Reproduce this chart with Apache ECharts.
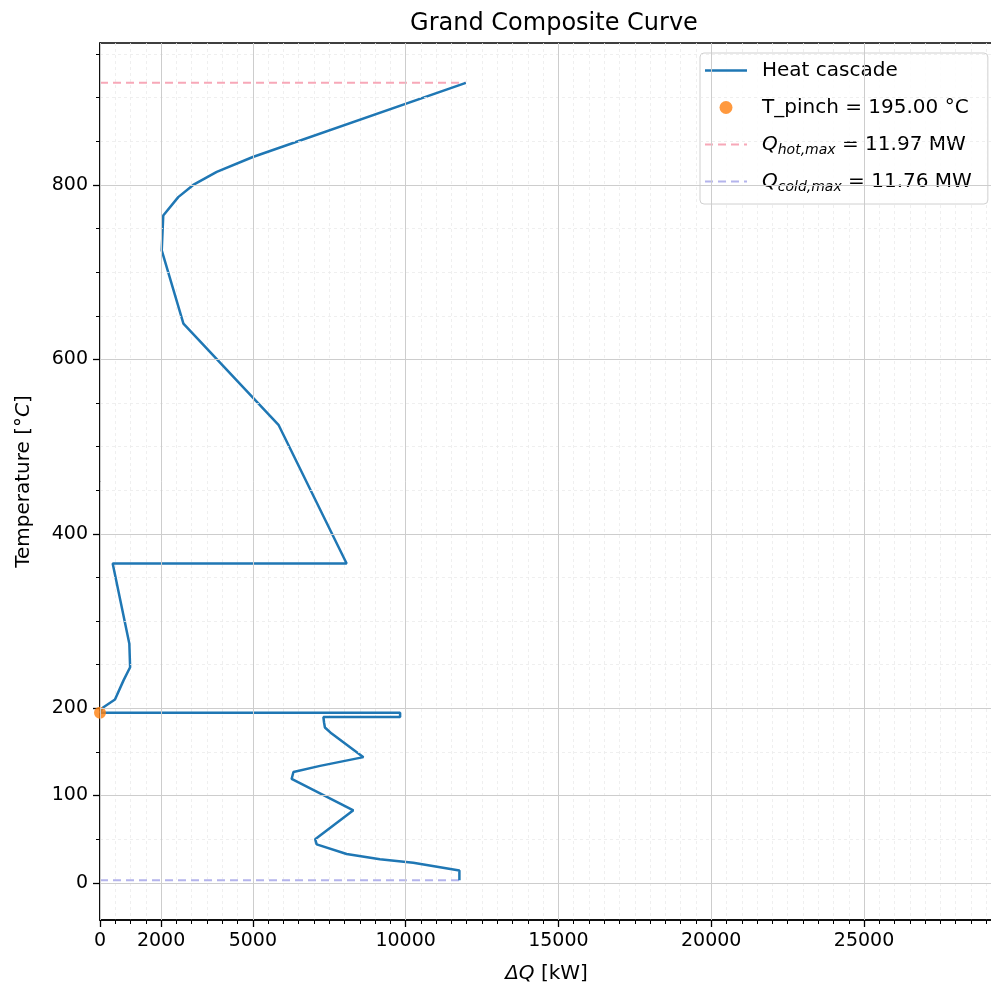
<!DOCTYPE html>
<html><head><meta charset="utf-8">
<script src="https://cdn.jsdelivr.net/npm/echarts@6/dist/echarts.min.js"></script>
<style>html,body{margin:0;padding:0;background:#fff}#c{width:991px;height:984px}</style>
</head><body><div id="c"></div>
<script>
// Heat cascade (Grand Composite Curve): heat flow ΔQ [kW] vs shifted temperature [°C]
const cascadeQ = [11970, 5000, 3820, 3050, 2560, 2070, 2020, 2730, 5840, 8070, 415, 960, 985, 770, 490, 100, 0, 9820, 9820, 7310, 7330, 7360, 7580, 8620, 7200, 6330, 6270, 8290, 7040, 7090, 8070, 9160, 10250, 11760, 11760];
const cascadeT = [917, 832, 815, 800, 786, 765, 725, 641, 525, 366, 366, 274, 247, 232, 210, 201, 195, 195, 190, 190, 184, 178, 171, 144, 134, 127, 119, 83, 50, 44, 33, 27, 23, 14, 3];
const pinchT = 195;
const qHotMax = 11970;   // kW
const qColdMax = 11760;  // kW
const tHot = 917;
const tCold = 3;
const xMajorTicks = [0, 2000, 5000, 10000, 15000, 20000, 25000];
const yMajorTicks = [0, 100, 200, 400, 600, 800];
const xMinorStep = 500;
const yMinorStep = 50;

const X_MIN = 0, X_MAX = 29220, Y_MIN = -42.7, Y_MAX = 962.7;
const yMinorTicks = [];
for (let v = 0; v <= Y_MAX; v += yMinorStep) yMinorTicks.push(v);

const FONT = 'DejaVu Sans';
const cascade = cascadeQ.map((q, i) => [q, cascadeT[i]]);

const legendNames = {
  cascade: 'Heat cascade',
  pinch: 'T_pinch',
  hot: 'Qhot',
  cold: 'Qcold'
};
const ICON_SOLID = 'path://M0,0h42v2.6h-42z';
const ICON_DASH = 'path://M0,0h8v2h-8z M13,0h8v2h-8z M26,0h8v2h-8z M39,0h3v2h-3z';

const chart = echarts.init(document.getElementById('c'), null, {renderer: 'canvas'});

const minorGridY = yMinorTicks.map(v => ({yAxis: v}));
const majorGridX = xMajorTicks.map(v => ({xAxis: v}));
const majorGridY = yMajorTicks.map(v => ({yAxis: v}));

chart.setOption({
  animation: false,
  backgroundColor: '#fff',
  title: {
    text: 'Grand Composite Curve',
    left: 549, top: 7, textAlign: 'center',
    textStyle: {fontFamily: FONT, fontSize: 24, fontWeight: 'normal', color: '#000'}
  },
  grid: {
    left: 100, right: -2, top: 43, bottom: 64,
    show: true, borderColor: '#000', borderWidth: 1.5, backgroundColor: 'transparent',
    outerBoundsMode: 'none'
  },
  xAxis: [
    {
      type: 'value', min: X_MIN, max: X_MAX, interval: xMinorStep, position: 'bottom',
      axisLine: {show: true, onZero: false, lineStyle: {color: '#000', width: 1.5}},
      axisTick: {show: true, length: 4, lineStyle: {color: '#000', width: 1}},
      axisLabel: {show: false},
      splitLine: {show: true, lineStyle: {color: '#ebebeb', width: 0.8, type: [3, 3]}}
    },
    {
      type: 'value', min: X_MIN, max: X_MAX, position: 'bottom',
      axisLine: {show: false, onZero: false},
      splitLine: {show: false},
      axisTick: {show: true, length: 7, customValues: xMajorTicks, lineStyle: {color: '#000', width: 1.3}},
      axisLabel: {show: true, customValues: xMajorTicks, margin: 12, color: '#000', fontFamily: FONT, fontSize: 19,
        formatter: v => String(v)},
      name: '{i|ΔQ} [kW]', nameLocation: 'middle', nameGap: 44,
      nameTextStyle: {color: '#000', fontFamily: FONT, fontSize: 20,
        rich: {i: {fontStyle: 'italic', fontFamily: FONT, fontSize: 20, color: '#000'}}}
    }
  ],
  yAxis: [
    {
      type: 'value', min: Y_MIN, max: Y_MAX, position: 'left',
      axisLine: {show: true, onZero: false, lineStyle: {color: '#000', width: 1.5}},
      splitLine: {show: false},
      axisTick: {show: true, length: 4, customValues: yMinorTicks, lineStyle: {color: '#000', width: 1}},
      axisLabel: {show: false}
    },
    {
      type: 'value', min: Y_MIN, max: Y_MAX, position: 'left',
      axisLine: {show: false, onZero: false},
      splitLine: {show: false},
      axisTick: {show: true, length: 7, customValues: yMajorTicks, lineStyle: {color: '#000', width: 1.3}},
      axisLabel: {show: true, customValues: yMajorTicks, margin: 12, color: '#000', fontFamily: FONT, fontSize: 19,
        formatter: v => String(v)},
      name: 'Temperature [{i|°C}]', nameLocation: 'middle', nameGap: 66,
      nameTextStyle: {color: '#000', fontFamily: FONT, fontSize: 20,
        rich: {i: {fontStyle: 'italic', fontFamily: FONT, fontSize: 20, color: '#000'}}}
    }
  ],
  legend: {
    orient: 'vertical', left: 700, top: 53,
    data: [
      {name: legendNames.cascade, icon: ICON_SOLID},
      {name: legendNames.pinch, icon: 'circle'},
      {name: legendNames.hot, icon: ICON_DASH},
      {name: legendNames.cold, icon: ICON_DASH}
    ],
    itemWidth: 42, itemHeight: 13, itemGap: 12, symbolKeepAspect: true,
    padding: [5, 16, 10, 5],
    backgroundColor: 'rgba(255,255,255,0.85)', borderColor: '#d0d0d0', borderWidth: 1, borderRadius: 4,
    selectedMode: false,
    textStyle: {
      fontFamily: FONT, fontSize: 20, color: '#000', lineHeight: 25, padding: [0, 0, 0, 10],
      rich: {
        i: {fontFamily: FONT, fontSize: 20, fontStyle: 'italic', color: '#000', lineHeight: 25},
        s: {fontFamily: FONT, fontSize: 14, fontStyle: 'italic', color: '#000', lineHeight: 25, verticalAlign: 'bottom', padding: [8, 0, 0, 0]},
        t: {fontFamily: FONT, fontSize: 20, color: '#000', lineHeight: 25}
      }
    },
    formatter: function (name) {
      if (name === legendNames.pinch) return 'T_pinch = ' + pinchT.toFixed(2) + ' °C';
      if (name === legendNames.hot) return '{i|Q}{s|hot,max}{t| = ' + (qHotMax / 1000).toFixed(2) + ' MW}';
      if (name === legendNames.cold) return '{i|Q}{s|cold,max}{t| = ' + (qColdMax / 1000).toFixed(2) + ' MW}';
      return name;
    }
  },
  series: [
    {
      name: 'grid', type: 'line', xAxisIndex: 0, yAxisIndex: 0, data: [], symbol: 'none', silent: true, z: 0,
      markLine: {
        silent: true, symbol: 'none', label: {show: false}, animation: false,
        lineStyle: {color: '#ebebeb', width: 0.8, type: [3, 3]},
        emphasis: {disabled: true},
        data: minorGridY
      }
    },
    {
      name: 'grid2', type: 'line', xAxisIndex: 0, yAxisIndex: 0, data: [], symbol: 'none', silent: true, z: 0,
      markLine: {
        silent: true, symbol: 'none', label: {show: false}, animation: false,
        lineStyle: {color: '#cdcdcd', width: 1, type: 'solid'},
        emphasis: {disabled: true},
        data: majorGridX.concat(majorGridY)
      }
    },
    {
      name: legendNames.hot, type: 'line', data: [[0, tHot], [qHotMax, tHot]],
      symbol: 'none', z: 2,
      lineStyle: {color: '#f7a8b8', width: 2, type: [8, 5]}, itemStyle: {color: '#f7a8b8'}
    },
    {
      name: legendNames.cold, type: 'line', data: [[0, tCold], [qColdMax, tCold]],
      symbol: 'none', z: 2,
      lineStyle: {color: '#b4b4ec', width: 2, type: [8, 5]}, itemStyle: {color: '#b4b4ec'}
    },
    {
      name: legendNames.cascade, type: 'line', data: cascade,
      symbol: 'none', z: 3,
      lineStyle: {color: '#1f77b4', width: 2.5}, itemStyle: {color: '#1f77b4'}
    },
    {
      name: legendNames.pinch, type: 'scatter', data: [[0, pinchT]],
      symbolSize: 12, z: 4,
      itemStyle: {color: '#ff7f0e'}
    }
  ]
});
</script></body></html>
